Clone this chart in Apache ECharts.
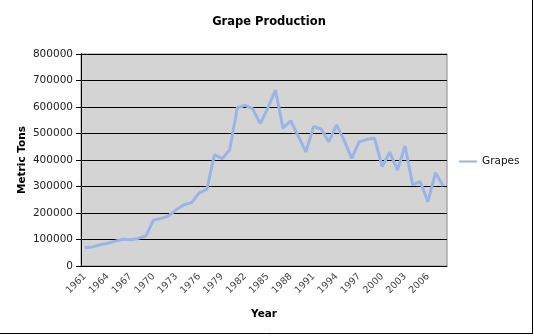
<!DOCTYPE html>
<html>
<head>
<meta charset="utf-8">
<script src="https://cdn.jsdelivr.net/npm/echarts@6/dist/echarts.min.js"></script>
<style>
  html, body { margin: 0; padding: 0; background: #fff; }
  #chart { width: 534px; height: 336px; }
</style>
</head>
<body>
<div id="chart"></div>
<script>
// Grape production, metric tons per year
const years = [
  1961, 1962, 1963, 1964, 1965, 1966, 1967, 1968, 1969, 1970,
  1971, 1972, 1973, 1974, 1975, 1976, 1977, 1978, 1979, 1980,
  1981, 1982, 1983, 1984, 1985, 1986, 1987, 1988, 1989, 1990,
  1991, 1992, 1993, 1994, 1995, 1996, 1997, 1998, 1999, 2000,
  2001, 2002, 2003, 2004, 2005, 2006, 2007, 2008
];
const grapes = [
  70000, 72000, 80000, 86000, 94000, 101000, 99000, 104000, 113000, 173000,
  179000, 189000, 213000, 231000, 239000, 276000, 289000, 420000, 405000, 439000,
  597000, 606000, 594000, 537000, 597000, 664000, 520000, 548000, 490000, 431000,
  526000, 517000, 469000, 532000, 475000, 406000, 469000, 478000, 482000, 375000,
  429000, 362000, 453000, 306000, 318000, 243000, 352000, 302000
];
const yTicks = [0, 100000, 200000, 300000, 400000, 500000, 600000, 700000, 800000];

const FONT = 'DejaVu Sans';
const chart = echarts.init(document.getElementById('chart'), null, { renderer: 'canvas' });

chart.setOption({
  animation: false,
  backgroundColor: '#ffffff',
  title: {
    text: 'Grape Production',
    left: 264, top: 11, textAlign: 'center',
    textStyle: { fontFamily: FONT, fontSize: 11.5, fontWeight: 'bold', color: '#000' }
  },
  legend: {
    data: ['Grapes'],
    orient: 'vertical',
    left: 454, top: 151,
    icon: 'rect', itemWidth: 18, itemHeight: 2, itemGap: 6,
    textStyle: { fontFamily: FONT, fontSize: 10.5, color: '#111' }
  },
  grid: {
    left: 81, top: 54, right: 87, bottom: 70,
    show: true, backgroundColor: '#d4d4d4', borderColor: '#8a8a8a', borderWidth: 1
  },
  xAxis: {
    type: 'category',
    data: years.map(String),
    boundaryGap: true,
    name: 'Year', nameLocation: 'middle', nameGap: 43,
    nameTextStyle: { fontFamily: FONT, fontSize: 10.5, fontWeight: 'bold', color: '#000' },
    axisLine: { lineStyle: { color: '#000', width: 1 } },
    axisTick: { interval: 0, length: 4, lineStyle: { color: '#000' } },
    axisLabel: {
      interval: 2, rotate: 45, margin: 9,
      fontFamily: FONT, fontSize: 9.5, color: '#444'
    },
    splitLine: { show: false }
  },
  yAxis: {
    type: 'value',
    min: 0, max: 800000, interval: 100000,
    axisLine: { show: true, lineStyle: { color: '#000', width: 1 } },
    axisTick: { show: true, length: 5, lineStyle: { color: '#000' } },
    axisLabel: {
      margin: 8, fontFamily: FONT, fontSize: 10.5, color: '#222',
      formatter: v => yTicks.includes(v) ? String(v) : ''
    },
    splitLine: { show: true, lineStyle: { color: '#000', width: 1 } }
  },
  series: [{
    name: 'Grapes',
    type: 'line',
    data: grapes,
    symbol: 'none',
    smooth: false,
    lineStyle: { color: '#9ab5e5', width: 3 },
    itemStyle: { color: '#9ab5e5' }
  }],
  graphic: [
    {
      type: 'text', x: 22, y: 160, rotation: Math.PI / 2,
      style: {
        text: 'Metric Tons', fontFamily: FONT, fontSize: 10.5, fontWeight: 'bold',
        fill: '#000', align: 'center', verticalAlign: 'middle'
      }
    },
    { type: 'line', shape: { x1: 532.5, y1: 0, x2: 532.5, y2: 334 }, style: { stroke: '#000', lineWidth: 1 } },
    { type: 'line', shape: { x1: 0, y1: 333.5, x2: 533, y2: 333.5 }, style: { stroke: '#000', lineWidth: 1 } }
  ]
});
</script>
</body>
</html>
